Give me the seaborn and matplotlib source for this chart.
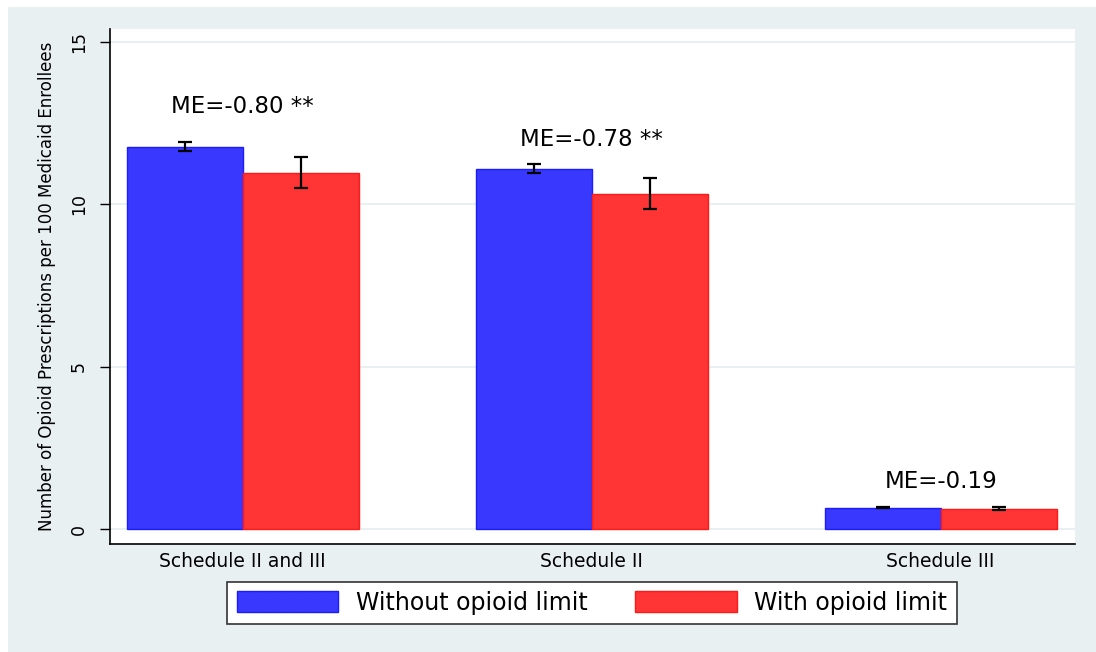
import pandas as pd
import matplotlib.pyplot as plt
import seaborn as sns
from matplotlib.patches import Rectangle

# Data
schedules = ['Schedule II and III', 'Schedule II', 'Schedule III']
groups = ['Without opioid limit', 'With opioid limit']
without_limit = [11.78, 11.10, 0.66]
with_limit = [10.98, 10.33, 0.63]
without_err = [0.15, 0.14, 0.02]
with_err = [0.49, 0.47, 0.04]
me_labels = ['ME=-0.80 **', 'ME=-0.78 **', 'ME=-0.19']

df = pd.DataFrame({
    'schedule': schedules * 2,
    'group': [groups[0]] * 3 + [groups[1]] * 3,
    'rx': without_limit + with_limit,
    'err': without_err + with_err,
})

sns.set_style('white')
plt.rcParams['font.family'] = ['DejaVu Sans']
plt.rcParams['text.color'] = 'black'
plt.rcParams['axes.labelcolor'] = 'black'
plt.rcParams['xtick.color'] = 'black'
plt.rcParams['ytick.color'] = 'black'

fig = plt.figure(figsize=(10.96, 6.52), dpi=100, facecolor='white')
# light Stata-like graph region, drawn behind the axes
fig.patches.append(Rectangle((8 / 1096, 0), 1, 1 - 7 / 652, transform=fig.transFigure,
                             facecolor='#e8f0f2', edgecolor='none', zorder=-5))
ax = fig.add_axes([110 / 1096, 1 - 544 / 652, (1075 - 110) / 1096, (544 - 29) / 652])
ax.set_facecolor('white')

palette = {groups[0]: '#3838ff', groups[1]: '#ff3434'}
sns.barplot(data=df, x='schedule', y='rx', hue='group', hue_order=groups,
            order=schedules, palette=palette, errorbar=None, width=0.665,
            saturation=1, ax=ax, zorder=2, legend=False)

edge_cols = ['#1c1cff', '#ff1a1a']
for cont, col, g in zip(ax.containers, edge_cols, groups):
    sub = df[df['group'] == g].set_index('schedule').loc[schedules]
    xs = [b.get_x() + b.get_width() / 2 for b in cont]
    for b in cont:
        b.set_edgecolor(col)
        b.set_linewidth(1)
    ax.errorbar(xs, sub['rx'], yerr=sub['err'], fmt='none', ecolor='black',
                elinewidth=1.6, capsize=5, capthick=1.6, zorder=3)

# marginal effect annotations
me_y = [13.0, 12.0, 1.45]
for i, (lab, yy) in enumerate(zip(me_labels, me_y)):
    ax.text(i, yy, lab, ha='center', va='center', fontsize=16.5, color='black')

ax.set_xlim(-0.38, 2.385)
ax.set_ylim(-0.46, 15.4)
ax.set_yticks([0, 5, 10, 15])
ax.grid(axis='y', color='#e8f0f2', linewidth=1.5, zorder=0)
ax.set_axisbelow(True)
for lab in ax.get_yticklabels():
    lab.set_rotation(90)
    lab.set_va('center')
ax.tick_params(axis='y', length=7, width=1, color='black', labelcolor='black',
               labelsize=12.5, pad=9, left=True)
ax.tick_params(axis='x', length=0, labelsize=13.5, labelcolor='black', pad=6)
for s in ['top', 'right']:
    ax.spines[s].set_visible(False)
for s in ['left', 'bottom']:
    ax.spines[s].set_color('black')
    ax.spines[s].set_linewidth(1.2)
ax.set_xlabel('')
ax.set_ylabel('Number of Opioid Prescriptions per 100 Medicaid Enrollees',
              fontsize=12, labelpad=10, color='black')

handles = [Rectangle((0, 0), 1, 1, facecolor=palette[g], edgecolor=c, linewidth=1)
           for g, c in zip(groups, edge_cols)]
leg = fig.legend(handles, groups, loc='center', bbox_to_anchor=(592 / 1096, 1 - 603 / 652),
                 ncol=2, fontsize=17, frameon=True, fancybox=False, handlelength=4.3,
                 handleheight=1.0, handletextpad=0.75, columnspacing=2.0,
                 borderpad=0.4, borderaxespad=0)
leg.get_frame().set_edgecolor('#333333')
leg.get_frame().set_linewidth(1.2)
leg.get_frame().set_facecolor('white')
leg.get_frame().set_alpha(1)
for t in leg.get_texts():
    t.set_color('black')

fig.savefig('out.png', dpi=100, facecolor='white')
